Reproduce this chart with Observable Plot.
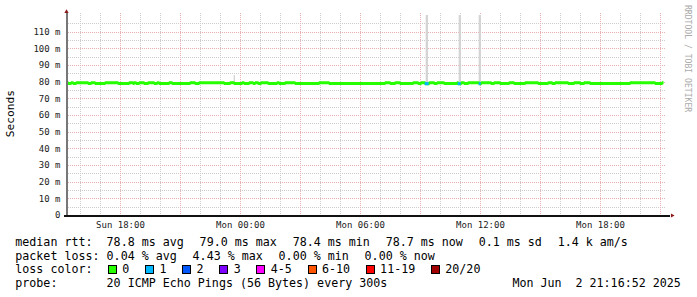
<!DOCTYPE html>
<html><head><meta charset="utf-8">
<script src="https://cdn.jsdelivr.net/npm/d3@7"></script>
<script src="https://cdn.jsdelivr.net/npm/@observablehq/plot@0.6"></script>
<style>
body{margin:0;background:#fff;}
#wrap{position:relative;width:697px;height:297px;overflow:hidden;font-family:"DejaVu Sans Mono",monospace;background:#fff;}
#wrap svg{position:absolute;left:0;top:0;}
.t{position:absolute;white-space:pre;font-size:11.67px;line-height:14px;color:#000;}
.sw{position:absolute;width:7px;height:7px;border:1px solid #000;}
.vt{position:absolute;white-space:pre;writing-mode:vertical-rl;}
</style></head><body><div id="wrap"></div>
<script>
// ---- data ----
const startTime = "06-01T15:18";
const endTime = "06-02T21:18";
const yMax = 121.2;
const yTicks = [0, 10, 20, 30, 40, 50, 60, 70, 80, 90, 100, 110];
const xTicks = ["06-01T18:00", "06-02T00:00", "06-02T06:00", "06-02T12:00", "06-02T18:00"];

// median rtt (ms): change points, value from that time until the next one
const medianTimes = [
  "06-01T15:20","06-01T15:23","06-01T15:32","06-01T15:38","06-01T15:47","06-01T16:23","06-01T16:32",
  "06-01T16:44","06-01T17:14","06-01T17:53","06-01T18:26","06-01T18:38","06-01T18:41","06-01T18:47",
  "06-01T18:56","06-01T19:11","06-01T19:23","06-01T19:41","06-01T19:50","06-01T19:56","06-01T20:26",
  "06-01T20:35","06-01T21:29","06-01T21:44","06-01T21:56","06-01T23:11","06-01T23:29","06-01T23:41",
  "06-02T00:05","06-02T00:11","06-02T00:26","06-02T00:38","06-02T00:44","06-02T00:53","06-02T01:02",
  "06-02T01:23","06-02T01:50","06-02T01:56","06-02T02:14","06-02T02:44","06-02T03:56","06-02T04:26",
  "06-02T07:14","06-02T07:29","06-02T07:44","06-02T07:59","06-02T08:38","06-02T08:53","06-02T09:02",
  "06-02T09:14","06-02T09:26","06-02T09:41","06-02T09:50","06-02T10:11","06-02T10:50","06-02T10:53",
  "06-02T11:02","06-02T11:11","06-02T11:23","06-02T11:56","06-02T12:02","06-02T12:32","06-02T12:41",
  "06-02T12:59","06-02T13:26","06-02T13:41","06-02T14:14","06-02T14:53","06-02T15:23","06-02T15:35",
  "06-02T15:44","06-02T16:23","06-02T16:41","06-02T16:59","06-02T17:11","06-02T17:29","06-02T19:29",
  "06-02T20:44","06-02T21:05"
];
const medianValues = [
  79.7,79.2,79.7,79.2,79.7,79.2,79.7,
  79.2,79.7,79.2,79.7,79.2,79.7,79.2,
  79.7,79.2,79.7,79.2,79.7,79.2,79.7,
  79.2,79.7,79.2,79.7,79.2,79.7,79.2,
  79.7,79.2,79.7,79.2,79.7,79.2,79.7,
  79.2,79.7,79.2,79.7,79.2,79.7,79.2,
  79.7,79.2,79.7,79.2,79.7,79.2,79.7,
  79.1,79.7,79.2,79.7,79.2,79.7,79.1,
  79.7,79.2,79.7,79.1,79.7,79.2,79.7,
  79.2,79.7,79.2,79.7,79.2,79.7,79.2,
  79.7,79.2,79.7,79.2,79.7,79.2,79.7,
  79.2,79.7
];
const medianLoss = [
  0,0,0,0,0,0,0, 0,0,0,0,0,0,0, 0,0,0,0,0,0,0, 0,0,0,0,0,0,0,
  0,0,0,0,0,0,0, 0,0,0,0,0,0,0, 0,0,0,0,0,0,0,
  1,0,0,0,0,0,1, 0,0,0,1,0,0,0, 0,0,0,0,0,0,0, 0,0,0,0,0,0,0, 0,0
];
const medianEnd = "06-02T21:09";

// smoke (ping spread): start, end, low ms, high ms
const smokeStart = ["06-01T23:41", "06-02T09:17", "06-02T10:56", "06-02T11:56"];
const smokeEnd   = ["06-01T23:45", "06-02T09:24", "06-02T11:03", "06-02T12:03"];
const smokeLow   = [79, 79, 79, 79];
const smokeHigh  = [84, 120, 120, 120];

// loss colour legend
const lossMax    = [0, 1, 2, 3, 5, 10, 19, 20];
const lossLabels = ["0", "1", "2", "3", "4-5", "6-10", "11-19", "20/20"];
const lossColors = ["#26ff00", "#00b8ff", "#0059ff", "#7e00ff", "#ff00ff", "#ff5500", "#ff0000", "#a10000"];

const rttLabel = "median rtt:";
const rttStats = ["78.8 ms avg", "79.0 ms max", "78.4 ms min", "78.7 ms now", "0.1 ms sd", "1.4 k am/s"];
const lossLabel = "packet loss:";
const lossStats = ["0.04 % avg", "4.43 % max", "0.00 % min", "0.00 % now"];
const colorLabel = "loss color:";
const probeLabel = "probe:";
const probeText = "20 ICMP Echo Pings (56 Bytes) every 300s";
const stampText = "Mon Jun  2 21:16:52 2025";
const yTitle = "Seconds";
const watermark = "RRDTOOL / TOBI OETIKER";

// ---- build ----
const t = s => new Date("2025-" + s + ":00Z");
const x0 = t(startTime), x1 = t(endTime);
const lossColor = n => lossColors[lossMax.findIndex(m => n <= m)];

const runs = medianTimes.map((s, i) => ({
  t1: t(s),
  t2: t(i + 1 < medianTimes.length ? medianTimes[i + 1] : medianEnd),
  v: medianValues[i],
  loss: medianLoss[i],
  c: lossColor(medianLoss[i])
}));
const steps = runs.map(r => ({t: r.t1, v: r.v}));
steps.push({t: runs[runs.length - 1].t2, v: runs[runs.length - 1].v});
const lossRuns = runs.filter(r => r.loss > 0);
const smoke = smokeStart.map((s, i) => ({t1: t(s), t2: t(smokeEnd[i]), lo: smokeLow[i], hi: smokeHigh[i]}));

const hours = d3.utcHour.range(x0, x1);
const minorX = hours.filter(d => d.getUTCHours() % 3 !== 0);
const majorX = hours.filter(d => d.getUTCHours() % 3 === 0);
const minorY = d3.range(5, yMax, 10);
const majorY = yTicks.filter(v => v > 0);

const dotted = {strokeDasharray: "1,1", strokeOpacity: 1, shapeRendering: "crispEdges"};
const arrowColor = "#8a1a1a";

const chart = Plot.plot({
  width: 697, height: 232,
  marginLeft: 66, marginRight: 31, marginTop: 13, marginBottom: 17,
  style: {fontFamily: "'DejaVu Sans Mono', monospace", fontSize: "9px", color: "#222", background: "transparent", overflow: "visible"},
  x: {type: "utc", domain: [x0, x1]},
  y: {domain: [0, yMax]},
  color: {type: "identity"},
  marks: [
    Plot.ruleX(minorX, {stroke: "#cccccc", ...dotted}),
    Plot.ruleY(minorY, {stroke: "#cccccc", ...dotted}),
    Plot.ruleX(majorX, {stroke: "#e8b0b0", ...dotted}),
    Plot.ruleY(majorY, {stroke: "#e8b0b0", ...dotted}),
    Plot.rect(smoke, {x1: "t1", x2: "t2", y1: "lo", y2: "hi", fill: "#d4d4d4"}),
    Plot.line(steps, {x: "t", y: "v", curve: "step-after", stroke: lossColors[0], strokeWidth: 3, strokeLinejoin: "miter", strokeLinecap: "butt"}),
    Plot.ruleY(lossRuns, {y: "v", x1: "t1", x2: "t2", stroke: "c", strokeWidth: 3}),
    Plot.ruleX([x0], {y1: -1.2, y2: 121.8, stroke: "#777", strokeWidth: 2, shapeRendering: "crispEdges"}),
    Plot.ruleY([0], {x1: d3.utcMinute.offset(x0, -6), x2: d3.utcMinute.offset(x1, 12), stroke: "#111", strokeWidth: 2, shapeRendering: "crispEdges"}),
    Plot.dot([0], {x: () => x0, y: () => 122.3, symbol: "triangle2", r: 2, fill: arrowColor, stroke: "none"}),
    Plot.dot([0], {x: () => d3.utcMinute.offset(x1, 17), y: () => 0, symbol: "triangle2", r: 2, rotate: 90, fill: arrowColor, stroke: "none"}),
    Plot.axisY({ticks: yTicks, tickFormat: d => d === 0 ? "0" : d + " m", tickSize: 0, tickPadding: 6, label: null}),
    Plot.axisX({ticks: xTicks.map(t), tickFormat: d3.utcFormat("%a %H:%M"), tickSize: 0, tickPadding: 6, label: null})
  ]
});
const wrap = document.getElementById("wrap");
wrap.appendChild(chart);

// ---- legend & texts ----
const cw = 7.02, gap = 15.8, rowTop = [234.7, 248.6, 262.4, 276.3];
function txt(s, x, y, extra) {
  const d = document.createElement("div");
  d.className = "t"; d.textContent = s;
  d.style.left = x + "px"; d.style.top = y + "px";
  if (extra) Object.assign(d.style, extra);
  wrap.appendChild(d); return d;
}
function row(label, items, r) {
  txt(label, 15.3, rowTop[r]);
  let x = 106.6;
  for (const s of items) { txt(s, x, rowTop[r]); x += s.length * cw + gap; }
}
row(rttLabel, rttStats, 0);
row(lossLabel, lossStats, 1);
txt(colorLabel, 15.3, rowTop[2]);
{
  let x = 108;
  lossLabels.forEach((l, i) => {
    const sq = document.createElement("div");
    sq.className = "sw"; sq.style.left = x + "px"; sq.style.top = "265px";
    sq.style.background = lossColors[i];
    wrap.appendChild(sq);
    const lx = x + 14.3;
    txt(l, lx, rowTop[2]);
    x = lx + l.length * cw + gap;
  });
}
txt(probeLabel, 15.3, rowTop[3]);
txt(probeText, 106.6, rowTop[3]);
txt(stampText, 0, rowTop[3], {left: "auto", right: (697 - 680.8) + "px"});

// y title (bottom-to-top)
const yt = document.createElement("div");
yt.className = "vt"; yt.textContent = yTitle;
Object.assign(yt.style, {fontSize: "11.2px", lineHeight: "14px", left: "4px", top: "90px", transform: "rotate(180deg)", color: "#000"});
wrap.appendChild(yt);

// watermark (top-to-bottom)
const wm = document.createElement("div");
wm.className = "vt"; wm.textContent = watermark;
Object.assign(wm.style, {fontSize: "8.1px", lineHeight: "10px", left: "682.5px", top: "5px", color: "#aaa"});
wrap.appendChild(wm);
</script></body></html>
